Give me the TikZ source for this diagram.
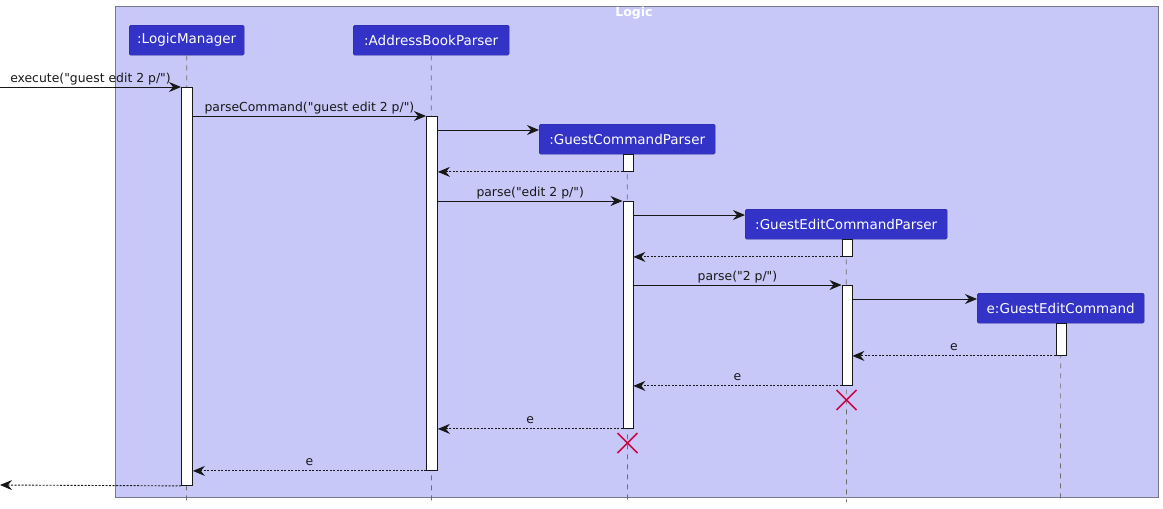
\documentclass[tikz,border=0pt]{standalone}
\usepackage{fontspec}
\setmainfont{DejaVu Sans}[Ligatures=TeXOff]
\usetikzlibrary{arrows.meta}
\definecolor{framefill}{RGB}{200,200,248}
\definecolor{frameline}{RGB}{120,120,140}
\definecolor{partfill}{RGB}{51,51,200}
\definecolor{partline}{RGB}{40,40,150}
\definecolor{xred}{RGB}{200,10,70}
\definecolor{ink}{RGB}{24,24,24}
\newcommand\dq{\symbol{34}}
\tikzset{
  part/.style={draw=partline, fill=partfill, rounded corners=1.5pt, text=white,
    font=\fontsize{13.5}{15}\selectfont, inner sep=0pt, anchor=north west},
  actbar/.style={draw=ink, fill=white, line width=0.9pt, inner sep=0pt, anchor=north west},
  lifeline/.style={draw=gray!85!black, line width=0.7pt, dash pattern=on 5pt off 5pt},
  msg/.style={draw=ink, line width=0.9pt, -{Stealth[length=12pt,width=10pt,inset=4pt]}},
  ret/.style={msg, dash pattern=on 2pt off 1.5pt},
  mlabel/.style={font=\fontsize{12.4}{14}\selectfont, text=ink, inner sep=0pt, anchor=base, yshift=5pt},
  destroy/.style={draw=xred, line width=1.6pt}
}
\begin{document}
\begin{tikzpicture}[x=1pt,y=-1pt]
\useasboundingbox (0,0) rectangle (1163,509);
% frame
\draw[draw=frameline, fill=framefill, line width=1pt] (115,6) rectangle (1158,497);
\node[text=white, font=\bfseries\fontsize{12.5}{14}\selectfont, inner sep=0pt] (title) at (634,13.5) {Logic};
% participants
\node[part, minimum width=115pt, minimum height=30pt] (lm) at (129,25) {:LogicManager};
\node[part, minimum width=156pt, minimum height=30pt] (abp) at (353,25) {:AddressBookParser};
\node[part, minimum width=176pt, minimum height=30pt] (gcp) at (539,124) {:GuestCommandParser};
\node[part, minimum width=202pt, minimum height=30pt] (gecp) at (745,209) {:GuestEditCommandParser};
\node[part, minimum width=167pt, minimum height=30pt] (gec) at (977,293) {e:GuestEditCommand};
% lifeline ends
\coordinate (lmEnd) at (186.5,502);
\coordinate (abpEnd) at (431.5,502);
\coordinate (gcpEnd) at (627.5,502);
\coordinate (gecpEnd) at (846.5,502);
\coordinate (gecEnd) at (1060.5,500);
\draw[lifeline] (lm.south) -- (lmEnd);
\draw[lifeline] (abp.south) -- (abpEnd);
\draw[lifeline] (gcp.south) -- (gcpEnd);
\draw[lifeline] (gecp.south) -- (gecpEnd);
\draw[lifeline] (gec.south) -- (gecEnd);
% activation bars
\node[actbar, minimum width=11pt, minimum height=398pt] (lmA) at (181,87) {};
\node[actbar, minimum width=11pt, minimum height=354pt] (abpA) at (426,116) {};
\node[actbar, minimum width=10pt, minimum height=17pt] (gcpA1) at (622.5,154) {};
\node[actbar, minimum width=10pt, minimum height=227pt] (gcpA2) at (622.5,201) {};
\node[actbar, minimum width=10pt, minimum height=17pt] (gecpA1) at (841.5,239) {};
\node[actbar, minimum width=10pt, minimum height=100pt] (gecpA2) at (841.5,285) {};
\node[actbar, minimum width=10pt, minimum height=32pt] (gecA) at (1055.5,323) {};
% external endpoints and create-arrow targets
\coordinate (inL) at (0,87);
\coordinate (outL) at (0,485);
\coordinate (gcpIn) at ([yshift=-6pt]gcp.north west);
\coordinate (gecpIn) at ([yshift=-6pt]gecp.north west);
\coordinate (gecIn) at ([yshift=-6pt]gec.north west);
% messages
\draw[msg] (inL) -- (lmA.north west) node[mlabel, pos=0.5] {execute(\dq guest edit 2 p/\dq)};
\draw[msg] (lmA.east |- abpA.north) -- (abpA.north west) node[mlabel, midway] {parseCommand(\dq guest edit 2 p/\dq)};
\draw[msg] (abpA.east |- gcpIn) -- (gcpIn);
\draw[ret] (gcpA1.south west) -- (abpA.east |- gcpA1.south);
\draw[msg] (abpA.east |- gcpA2.north) -- (gcpA2.north west) node[mlabel, midway] {parse(\dq edit 2 p/\dq)};
\draw[msg] (gcpA2.east |- gecpIn) -- (gecpIn);
\draw[ret] (gecpA1.south west) -- (gcpA2.east |- gecpA1.south);
\draw[msg] (gcpA2.east |- gecpA2.north) -- (gecpA2.north west) node[mlabel, midway] {parse(\dq 2 p/\dq)};
\draw[msg] (gecpA2.east |- gecIn) -- (gecIn);
\draw[ret] (gecA.south west) -- (gecpA2.east |- gecA.south) node[mlabel, midway] {e};
\draw[ret] (gecpA2.south west) -- (gcpA2.east |- gecpA2.south) node[mlabel, midway] {e};
\draw[ret] (gcpA2.south west) -- (abpA.east |- gcpA2.south) node[mlabel, midway] {e};
\draw[ret] (abpA.south west) -- (lmA.east |- abpA.south) node[mlabel, midway] {e};
\draw[ret] (lmA.south west) -- (outL);
% destroy marks
\coordinate (x1) at (846.5,400);
\coordinate (x2) at (627.5,443);
\draw[destroy] ([shift={(-10,-10)}]x1) -- ([shift={(10,10)}]x1) ([shift={(-10,10)}]x1) -- ([shift={(10,-10)}]x1);
\draw[destroy] ([shift={(-10,-10)}]x2) -- ([shift={(10,10)}]x2) ([shift={(-10,10)}]x2) -- ([shift={(10,-10)}]x2);
\end{tikzpicture}
\end{document}
